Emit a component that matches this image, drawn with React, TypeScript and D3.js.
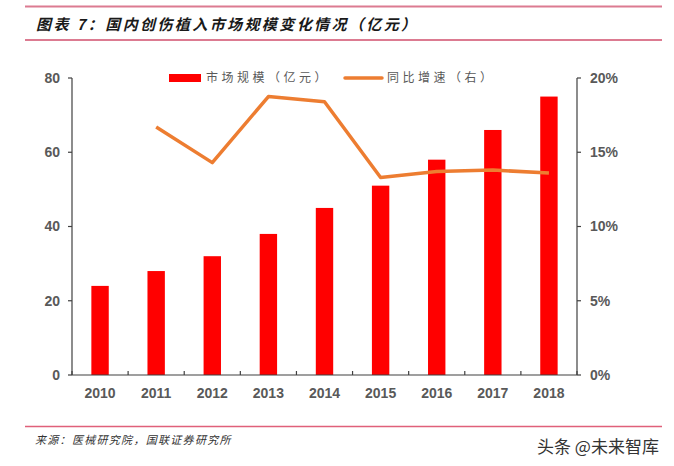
import React from "react";
import * as d3 from "d3";

const years = ["2010", "2011", "2012", "2013", "2014", "2015", "2016", "2017", "2018"];
const marketSize = [24, 28, 32, 38, 45, 51, 58, 66, 75];
const growth = [null, 16.7, 14.3, 18.75, 18.4, 13.3, 13.7, 13.8, 13.6];
const leftTicks = [0, 20, 40, 60, 80];
const rightTicks = [0, 5, 10, 15, 20];
const title = "图表 7：国内创伤植入市场规模变化情况（亿元）";
const legendBar = "市场规模（亿元）";
const legendLine = "同比增速（右）";
const source = "来源：医械研究院，国联证券研究所";
const watermark = "头条 @未来智库";

const W = 674;
const H = 466;
const plot = { left: 72, right: 577, top: 78, bottom: 375 };

export default function App() {
  const x = d3.scaleBand<string>().domain(years).range([plot.left, plot.right]).padding(0);
  const yL = d3.scaleLinear().domain([0, 80]).range([plot.bottom, plot.top]);
  const yR = d3.scaleLinear().domain([0, 20]).range([plot.bottom, plot.top]);
  const bw = x.bandwidth() * 0.31;
  const pts = years
    .map((yr, i) => ({ yr, v: growth[i] }))
    .filter((d) => d.v !== null) as { yr: string; v: number }[];
  const line = d3
    .line<{ yr: string; v: number }>()
    .x((d) => (x(d.yr) as number) + x.bandwidth() / 2)
    .y((d) => yR(d.v));
  const axisColor = "#404040";
  const tickFont = "'Liberation Sans', Arial, sans-serif";
  const cjk = "'Noto Sans CJK SC', sans-serif";
  const boundaries = d3.range(years.length + 1).map((i) => plot.left + i * x.bandwidth());

  return (
    <svg width={W} height={H} style={{ position: "absolute", left: 0, top: 0, background: "#fff" }}>
      <rect x={0} y={0} width={W} height={H} fill="#fff" />
      {/* header lines */}
      <line x1={25} x2={662} y1={6.5} y2={6.5} stroke="#dc7b91" strokeWidth={2} />
      <line x1={25} x2={662} y1={40} y2={40} stroke="#dc7b91" strokeWidth={2} />
      <text x={36} y={30} fontFamily={cjk} fontSize={15} fontWeight="bold" fontStyle="italic" letterSpacing={2.4} fill="#1a1a1a">
        {title}
      </text>

      {/* bars */}
      {years.map((yr, i) => (
        <rect
          key={yr}
          x={(x(yr) as number) + x.bandwidth() / 2 - bw / 2}
          y={yL(marketSize[i])}
          width={bw}
          height={plot.bottom - yL(marketSize[i])}
          fill="#ff0000"
        />
      ))}

      {/* growth line */}
      <path d={line(pts) || ""} fill="none" stroke="#ed7d31" strokeWidth={3.5} strokeLinejoin="round" />

      {/* left axis */}
      <line x1={plot.left} x2={plot.left} y1={plot.top} y2={plot.bottom} stroke={axisColor} strokeWidth={1.2} />
      {leftTicks.map((t) => (
        <g key={t}>
          <line x1={plot.left - 4} x2={plot.left} y1={yL(t)} y2={yL(t)} stroke={axisColor} strokeWidth={1.2} />
          <text x={plot.left - 12} y={yL(t)} dy="0.35em" textAnchor="end" fontFamily={tickFont} fontWeight="bold" fontSize={14} fill="#595959">
            {t}
          </text>
        </g>
      ))}

      {/* right axis */}
      <line x1={plot.right} x2={plot.right} y1={plot.top} y2={plot.bottom} stroke={axisColor} strokeWidth={1.2} />
      {rightTicks.map((t) => (
        <g key={t}>
          <line x1={plot.right} x2={plot.right + 4} y1={yR(t)} y2={yR(t)} stroke={axisColor} strokeWidth={1.2} />
          <text x={plot.right + 13} y={yR(t)} dy="0.35em" textAnchor="start" fontFamily={tickFont} fontWeight="bold" fontSize={14} fill="#595959">
            {t + "%"}
          </text>
        </g>
      ))}

      {/* x axis */}
      <line x1={plot.left} x2={plot.right} y1={plot.bottom} y2={plot.bottom} stroke={axisColor} strokeWidth={1.2} />
      {boundaries.map((bx, i) => (
        <line key={i} x1={bx} x2={bx} y1={plot.bottom} y2={plot.bottom - 4} stroke={axisColor} strokeWidth={1.2} />
      ))}
      {years.map((yr) => (
        <text key={yr} x={(x(yr) as number) + x.bandwidth() / 2} y={393} dy="0.35em" textAnchor="middle" fontFamily={tickFont} fontWeight="bold" fontSize={14} fill="#595959">
          {yr}
        </text>
      ))}

      {/* legend */}
      <rect x={169} y={74} width={32} height={8} fill="#ff0000" />
      <text x={206} y={78} dy="0.35em" fontFamily={cjk} fontSize={12} letterSpacing={3.5} fill="#595959">
        {legendBar}
      </text>
      <line x1={345} x2={382} y1={78} y2={78} stroke="#ed7d31" strokeWidth={3.5} strokeLinecap="round" />
      <text x={387} y={78} dy="0.35em" fontFamily={cjk} fontSize={12} letterSpacing={3.5} fill="#595959">
        {legendLine}
      </text>

      {/* footer */}
      <line x1={25} x2={662} y1={426.5} y2={426.5} stroke="#e0607a" strokeWidth={1.5} />
      <text x={35} y={440} dy="0.35em" fontFamily={cjk} fontSize={11} fontStyle="italic" letterSpacing={1.3} fill="#333">
        {source}
      </text>
      <text x={537} y={447} dy="0.35em" fontFamily={cjk} fontSize={17} fill="#333">
        {watermark}
      </text>
    </svg>
  );
}
